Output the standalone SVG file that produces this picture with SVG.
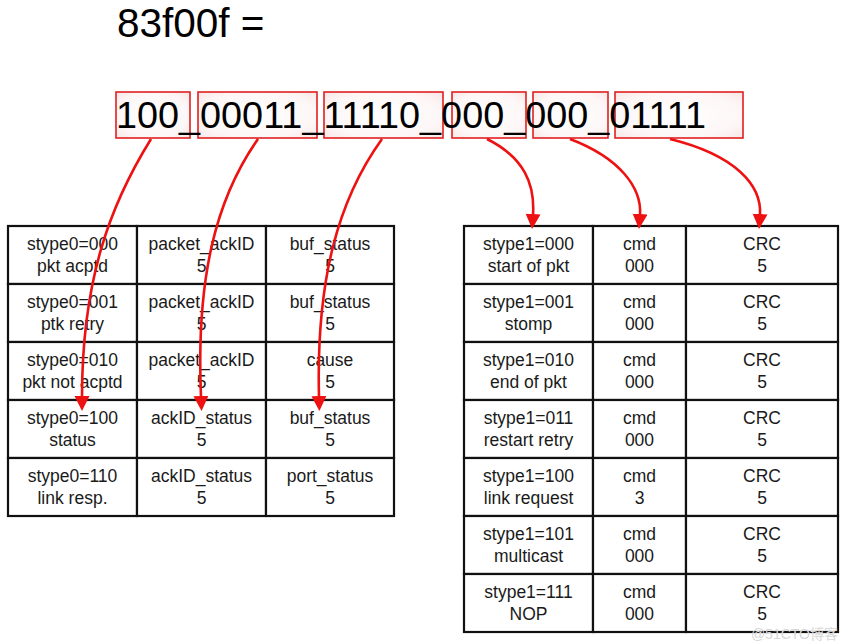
<svg xmlns="http://www.w3.org/2000/svg" width="848" height="643" viewBox="0 0 848 643">
<defs>
<style>
.cell{fill:#fff;stroke:#111;stroke-width:2.2}
.t{font-family:"Liberation Sans",Arial,sans-serif;font-size:17.5px;fill:#1a1a1a;text-anchor:middle}
.box{fill:url(#pink);stroke:#e02020;stroke-width:1.6}
.arr{fill:none;stroke:#ee1111;stroke-width:2.6;marker-end:url(#ah)}
.big{font-family:"Liberation Sans",Arial,sans-serif;fill:#000}
</style>
<radialGradient id="pink" cx="0.5" cy="0.5" r="0.7">
<stop offset="0" stop-color="#ffffff"/>
<stop offset="0.7" stop-color="#fdf6f6"/>
<stop offset="1" stop-color="#f9e6e6"/>
</radialGradient>
<marker id="ah" markerUnits="userSpaceOnUse" markerWidth="16" markerHeight="16" refX="1" refY="7.5" orient="auto">
<path d="M0,0 L15,7.5 L0,15 z" fill="#ee1111"/>
</marker>
</defs>
<rect width="848" height="643" fill="#fff"/>

<g id="title">
<text class="big" x="117" y="37" font-size="40.5">83f00f =</text>
</g>

<g id="bitfields">
<rect class="box" x="116" y="92" width="74" height="46"/>
<rect class="box" x="198" y="92" width="119" height="46"/>
<rect class="box" x="324" y="92" width="119" height="46"/>
<rect class="box" x="452" y="92" width="74" height="46"/>
<rect class="box" x="533" y="92" width="75" height="46"/>
<rect class="box" x="615" y="92" width="128" height="46"/>
<text class="big" x="116" y="128" font-size="37.8">100_00011_11110_000_000_01111</text>
</g>

<g id="table0">
<g id="t0r1">
<rect class="cell" x="8" y="226" width="129" height="58"/>
<rect class="cell" x="137" y="226" width="129" height="58"/>
<rect class="cell" x="266" y="226" width="128" height="58"/>
<text class="t" x="72.5" y="250">stype0=000</text><text class="t" x="72.5" y="271.5">pkt acptd</text>
<text class="t" x="201.5" y="250">packet_ackID</text><text class="t" x="201.5" y="271.5">5</text>
<text class="t" x="330" y="250">buf_status</text><text class="t" x="330" y="271.5">5</text>
</g>
<g id="t0r2">
<rect class="cell" x="8" y="284" width="129" height="58"/>
<rect class="cell" x="137" y="284" width="129" height="58"/>
<rect class="cell" x="266" y="284" width="128" height="58"/>
<text class="t" x="72.5" y="308">stype0=001</text><text class="t" x="72.5" y="329.5">ptk retry</text>
<text class="t" x="201.5" y="308">packet_ackID</text><text class="t" x="201.5" y="329.5">5</text>
<text class="t" x="330" y="308">buf_status</text><text class="t" x="330" y="329.5">5</text>
</g>
<g id="t0r3">
<rect class="cell" x="8" y="342" width="129" height="58"/>
<rect class="cell" x="137" y="342" width="129" height="58"/>
<rect class="cell" x="266" y="342" width="128" height="58"/>
<text class="t" x="72.5" y="366">stype0=010</text><text class="t" x="72.5" y="387.5">pkt not acptd</text>
<text class="t" x="201.5" y="366">packet_ackID</text><text class="t" x="201.5" y="387.5">5</text>
<text class="t" x="330" y="366">cause</text><text class="t" x="330" y="387.5">5</text>
</g>
<g id="t0r4">
<rect class="cell" x="8" y="400" width="129" height="58"/>
<rect class="cell" x="137" y="400" width="129" height="58"/>
<rect class="cell" x="266" y="400" width="128" height="58"/>
<text class="t" x="72.5" y="424">stype0=100</text><text class="t" x="72.5" y="445.5">status</text>
<text class="t" x="201.5" y="424">ackID_status</text><text class="t" x="201.5" y="445.5">5</text>
<text class="t" x="330" y="424">buf_status</text><text class="t" x="330" y="445.5">5</text>
</g>
<g id="t0r5">
<rect class="cell" x="8" y="458" width="129" height="58"/>
<rect class="cell" x="137" y="458" width="129" height="58"/>
<rect class="cell" x="266" y="458" width="128" height="58"/>
<text class="t" x="72.5" y="482">stype0=110</text><text class="t" x="72.5" y="503.5">link resp.</text>
<text class="t" x="201.5" y="482">ackID_status</text><text class="t" x="201.5" y="503.5">5</text>
<text class="t" x="330" y="482">port_status</text><text class="t" x="330" y="503.5">5</text>
</g>
</g>

<g id="table1">
<g id="t1r1">
<rect class="cell" x="464" y="226" width="129" height="58"/>
<rect class="cell" x="593" y="226" width="93" height="58"/>
<rect class="cell" x="686" y="226" width="152" height="58"/>
<text class="t" x="528.5" y="250">stype1=000</text><text class="t" x="528.5" y="271.5">start of pkt</text>
<text class="t" x="639.5" y="250">cmd</text><text class="t" x="639.5" y="271.5">000</text>
<text class="t" x="762" y="250">CRC</text><text class="t" x="762" y="271.5">5</text>
</g>
<g id="t1r2">
<rect class="cell" x="464" y="284" width="129" height="58"/>
<rect class="cell" x="593" y="284" width="93" height="58"/>
<rect class="cell" x="686" y="284" width="152" height="58"/>
<text class="t" x="528.5" y="308">stype1=001</text><text class="t" x="528.5" y="329.5">stomp</text>
<text class="t" x="639.5" y="308">cmd</text><text class="t" x="639.5" y="329.5">000</text>
<text class="t" x="762" y="308">CRC</text><text class="t" x="762" y="329.5">5</text>
</g>
<g id="t1r3">
<rect class="cell" x="464" y="342" width="129" height="58"/>
<rect class="cell" x="593" y="342" width="93" height="58"/>
<rect class="cell" x="686" y="342" width="152" height="58"/>
<text class="t" x="528.5" y="366">stype1=010</text><text class="t" x="528.5" y="387.5">end of pkt</text>
<text class="t" x="639.5" y="366">cmd</text><text class="t" x="639.5" y="387.5">000</text>
<text class="t" x="762" y="366">CRC</text><text class="t" x="762" y="387.5">5</text>
</g>
<g id="t1r4">
<rect class="cell" x="464" y="400" width="129" height="58"/>
<rect class="cell" x="593" y="400" width="93" height="58"/>
<rect class="cell" x="686" y="400" width="152" height="58"/>
<text class="t" x="528.5" y="424">stype1=011</text><text class="t" x="528.5" y="445.5">restart retry</text>
<text class="t" x="639.5" y="424">cmd</text><text class="t" x="639.5" y="445.5">000</text>
<text class="t" x="762" y="424">CRC</text><text class="t" x="762" y="445.5">5</text>
</g>
<g id="t1r5">
<rect class="cell" x="464" y="458" width="129" height="58"/>
<rect class="cell" x="593" y="458" width="93" height="58"/>
<rect class="cell" x="686" y="458" width="152" height="58"/>
<text class="t" x="528.5" y="482">stype1=100</text><text class="t" x="528.5" y="503.5">link request</text>
<text class="t" x="639.5" y="482">cmd</text><text class="t" x="639.5" y="503.5">3</text>
<text class="t" x="762" y="482">CRC</text><text class="t" x="762" y="503.5">5</text>
</g>
<g id="t1r6">
<rect class="cell" x="464" y="516" width="129" height="58"/>
<rect class="cell" x="593" y="516" width="93" height="58"/>
<rect class="cell" x="686" y="516" width="152" height="58"/>
<text class="t" x="528.5" y="540">stype1=101</text><text class="t" x="528.5" y="561.5">multicast</text>
<text class="t" x="639.5" y="540">cmd</text><text class="t" x="639.5" y="561.5">000</text>
<text class="t" x="762" y="540">CRC</text><text class="t" x="762" y="561.5">5</text>
</g>
<g id="t1r7">
<rect class="cell" x="464" y="574" width="129" height="58"/>
<rect class="cell" x="593" y="574" width="93" height="58"/>
<rect class="cell" x="686" y="574" width="152" height="58"/>
<text class="t" x="528.5" y="598">stype1=111</text><text class="t" x="528.5" y="619.5">NOP</text>
<text class="t" x="639.5" y="598">cmd</text><text class="t" x="639.5" y="619.5">000</text>
<text class="t" x="762" y="598">CRC</text><text class="t" x="762" y="619.5">5</text>
</g>
</g>

<g id="connectors">
<path class="arr" d="M151,139 C110,205 82,280 82,397"/>
<path class="arr" d="M258,139 C215,200 196,280 201,397"/>
<path class="arr" d="M382,139 C338,200 316,280 319,397"/>
<path class="arr" d="M487,139 C525,158 535,185 533,215"/>
<path class="arr" d="M570,139 C620,158 642,188 640,215"/>
<path class="arr" d="M670,139 C735,155 762,185 760,215"/>
</g>

<text x="838" y="639" font-family="'Liberation Sans','Noto Sans CJK SC',sans-serif" font-size="14" fill="#d8d8d8" text-anchor="end">@51CTO博客</text>
</svg>
